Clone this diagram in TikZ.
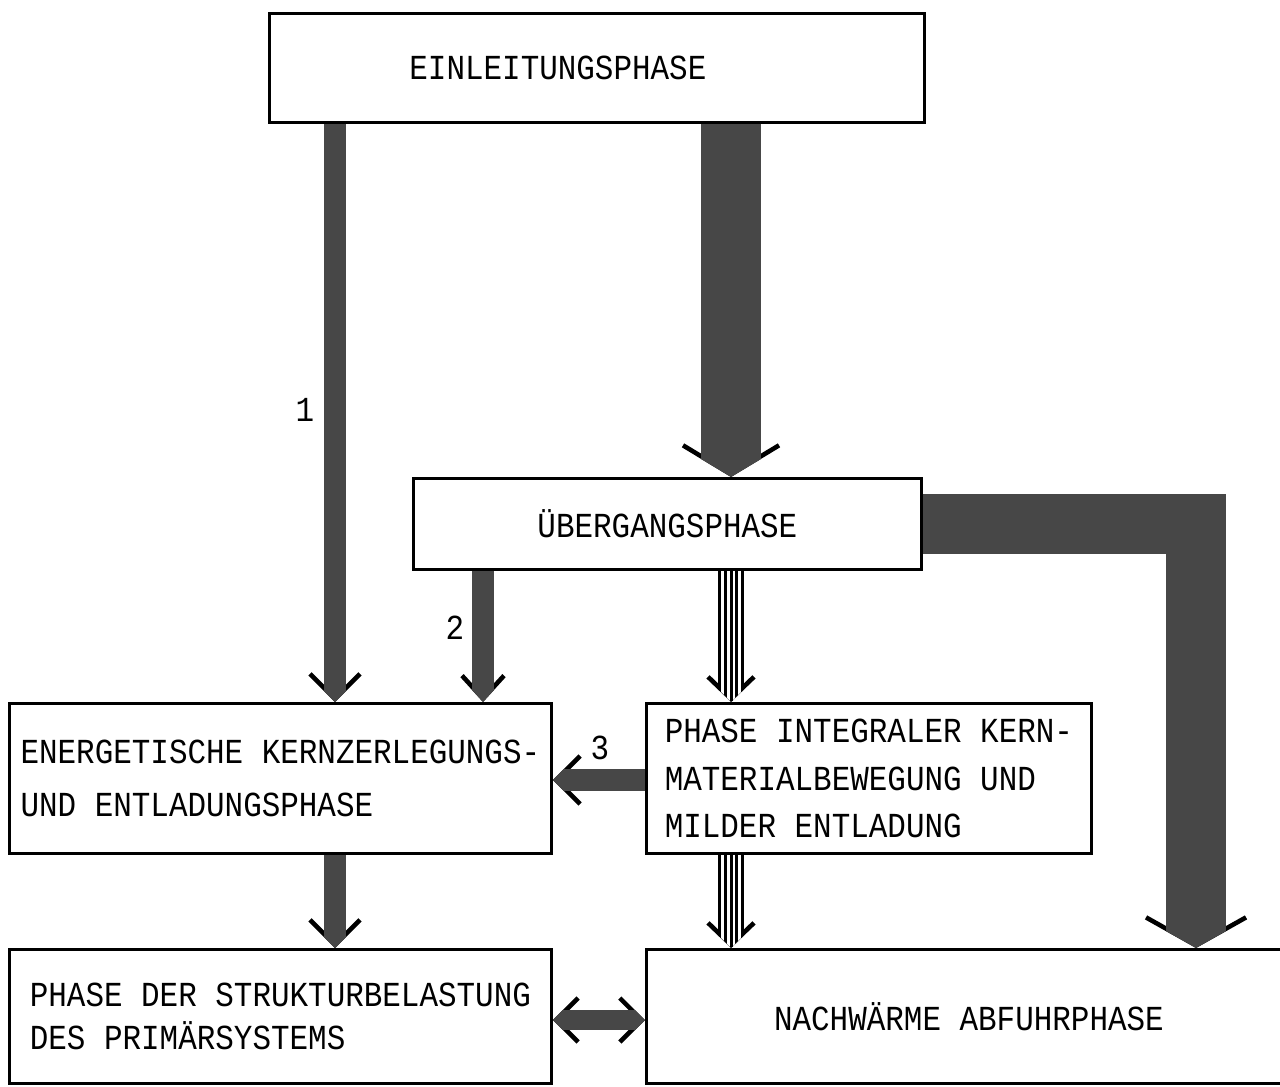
\documentclass[tikz,border=0pt]{standalone}
\usepackage{fontspec}
\setmainfont[FakeStretch=0.88]{Liberation Mono}
\usetikzlibrary{arrows.meta}

\definecolor{shaftgray}{gray}{0.28}

\tikzset{
  box/.style={draw, line width=0.8pt, anchor=north west, align=left,
    inner sep=0pt, font=\fontsize{10}{14}\selectfont},
  % filled arrow: shaft width, barb width, barb length, taper length
  fat/.style n args={4}{line width=#1, draw=shaftgray,
    -{Triangle[width=#1, length=#4, line width=0pt]},
    preaction={draw=black, line width=1.3pt,
      -{Straight Barb[width=#2, length=#3, line width=1.3pt]}}},
  twoway/.style={line width=0.2cm, draw=shaftgray,
    {Triangle[width=0.2cm, length=0.1cm, line width=0pt]}-{Triangle[width=0.2cm, length=0.1cm, line width=0pt]},
    preaction={draw=black, line width=1.3pt,
      {Straight Barb[width=0.44cm, length=0.22cm, line width=1.3pt]}-{Straight Barb[width=0.44cm, length=0.22cm, line width=1.3pt]}}},
  stripes/.style={line width=0.26cm, draw=black,
    -{Triangle[width=0.26cm, length=0.13cm, line width=0pt]},
    preaction={draw=black, line width=1.3pt,
      -{Straight Barb[width=0.46cm, length=0.22cm, line width=1.3pt]}},
    postaction={draw=white, line width=0.2cm, -{Triangle[width=0.2cm, length=0.1cm, line width=0pt]}},
    postaction={draw=black, line width=0.14cm, -{Triangle[width=0.14cm, length=0.07cm, line width=0pt]}},
    postaction={draw=white, line width=0.08cm, -{Triangle[width=0.08cm, length=0.04cm, line width=0pt]}},
    postaction={draw=black, line width=0.03cm, -{Triangle[width=0.03cm, length=0.015cm, line width=0pt]}}},
  num/.style={font=\fontsize{10}{12}\selectfont}
}

\begin{document}
\begin{tikzpicture}
  \clip (0,0) rectangle (12.8,-10.86);

  % phases
  \node[box, minimum width=6.55cm, minimum height=1.09cm, inner xsep=1.4cm, text width=3.75cm]
    (ein) at (2.68,-0.12) {EINLEITUNGSPHASE};
  \node[box, minimum width=5.08cm, minimum height=0.91cm] (ueb) at (4.12,-4.77) {ÜBERGANGSPHASE};
  \node[box, minimum width=5.42cm, minimum height=1.5cm, font=\fontsize{10}{14.8}\selectfont]
    (ener) at (0.08,-7.02) {ENERGETISCHE KERNZERLEGUNGS-\\UND ENTLADUNGSPHASE};
  \node[box, minimum width=4.45cm, minimum height=1.5cm, font=\fontsize{10}{13.4}\selectfont]
    (integ) at (6.45,-7.02) {PHASE INTEGRALER KERN-\\MATERIALBEWEGUNG UND\\MILDER ENTLADUNG};
  \node[box, minimum width=5.42cm, minimum height=1.34cm, font=\fontsize{10}{12.5}\selectfont]
    (strukt) at (0.08,-9.48) {PHASE DER STRUKTURBELASTUNG\\DES PRIMÄRSYSTEMS};
  \node[box, minimum width=6.45cm, minimum height=1.34cm] (nach) at (6.45,-9.48) {NACHWÄRME ABFUHRPHASE};

  % columns and rows of the arrows
  \coordinate (colA) at (3.35,0);
  \coordinate (colB) at (4.83,0);
  \coordinate (colC) at (7.31,0);
  \coordinate (colD) at (11.96,0);
  \coordinate (rowE) at (0,-7.8);
  \coordinate (rowS) at (0,-10.2);

  \draw[fat={0.22cm}{0.5cm}{0.25cm}{0.11cm}] (ein.south -| colA) -- (ener.north -| colA);
  \draw[fat={0.6cm}{0.96cm}{0.29cm}{0.18cm}] (ein.south -| colC) -- (ueb.north -| colC);
  \draw[fat={0.22cm}{0.42cm}{0.23cm}{0.12cm}] (ueb.south -| colB) -- (ener.north -| colB);
  \draw[stripes] (ueb.south -| colC) -- (integ.north -| colC);
  \draw[fat={0.6cm}{1.0cm}{0.28cm}{0.17cm}] (ueb.east) -| (nach.north -| colD);
  \draw[fat={0.22cm}{0.48cm}{0.24cm}{0.11cm}] (integ.west |- rowE) -- (ener.east |- rowE);
  \draw[fat={0.22cm}{0.5cm}{0.25cm}{0.11cm}] (ener.south -| colA) -- (strukt.north -| colA);
  \draw[stripes] (integ.south -| colC) -- (nach.north -| colC);
  \draw[twoway] (strukt.east |- rowS) -- (nach.west |- rowS);

  % path numbers
  \node[num] (n1) at (3.05,-4.10) {1};
  \node[num] (n2) at (4.55,-6.28) {2};
  \node[num] (n3) at (6.0,-7.48) {3};
\end{tikzpicture}
\end{document}
